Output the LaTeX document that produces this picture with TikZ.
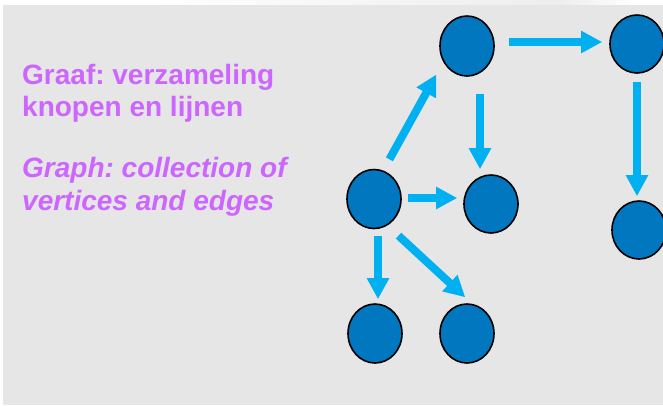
\documentclass[tikz,border=0pt]{standalone}
\usepackage{fontspec}
\setmainfont{Liberation Sans}
\usetikzlibrary{arrows.meta,shapes.geometric}
\frenchspacing
\definecolor{panel}{HTML}{E6E6E6}
\definecolor{vertexfill}{HTML}{0077BE}
\definecolor{edgeblue}{HTML}{00B0F0}
\definecolor{labelpurple}{HTML}{CC66FF}
\tikzset{
  vertex/.style={ellipse, draw=black, line width=1.6pt, fill=vertexfill,
    minimum width=54pt, minimum height=59pt, inner sep=0pt},
  edgearrow/.style={draw=edgeblue, line width=8pt,
    -{Triangle[length=21pt,width=21pt]}},
  caption/.style={text=labelpurple, font=\fontsize{28}{33}\selectfont\bfseries,
    anchor=base west, inner sep=0pt},
  captionit/.style={caption, font=\fontsize{28}{33}\selectfont\bfseries\itshape}
}
\begin{document}
\begin{tikzpicture}[x=1pt,y=-1pt]
  % canvas and grey panel
  \useasboundingbox (0,0) rectangle (663,405);
  \fill[white] (0,0) rectangle (663,405);
  \shade[left color=white, right color=panel!70!white] (150,0) rectangle (560,5);
  \shade[left color=panel!70!white, right color=white] (560,0) rectangle (635,5);
  \fill[panel] (3,5) rectangle (663,405);

  % text
  \node[caption]   (t1) at (22,84)  {Graaf: verzameling};
  \node[caption]   (t2) at (22,116) {knopen en lijnen};
  \node[captionit] (t3) at (22,177) {Graph: collection of};
  \node[captionit] (t4) at (22,210) {vertices and edges};

  % vertices
  \node[vertex, minimum height=60pt] (A) at (467,46)  {};
  \node[vertex, minimum height=58pt] (B) at (637,44)  {};
  \node[vertex, minimum height=58pt] (C) at (639,230) {};
  \node[vertex] (D) at (374,199) {};
  \node[vertex, minimum height=58pt] (E) at (491,204) {};
  \node[vertex] (F) at (375,333.5) {};
  \node[vertex] (G) at (467,333.5) {};

  % edges
  \draw[edgearrow, shorten <=12.7pt, shorten >=14.2pt] (D.72.5) -- (A.214);
  \draw[edgearrow, shorten <=17pt, shorten >=5pt]
    ([xshift=13pt]A.south) -- ([xshift=-11pt]E.north);
  \draw[edgearrow, shorten <=14pt, shorten >=7pt]
    ([yshift=4pt]A.east) -- ([yshift=2pt]B.west);
  \draw[edgearrow, shorten <=8pt, shorten >=4pt]
    (B.south) -- ([xshift=-2pt]C.north);
  \draw[edgearrow, shorten <=6pt, shorten >=6pt]
    ([yshift=1pt]D.east) -- ([yshift=6pt]E.west);
  \draw[edgearrow, shorten <=6.5pt, shorten >=4pt]
    ([xshift=4pt]D.south) -- ([xshift=3pt]F.north);
  \draw[edgearrow, shorten <=15pt, shorten >=9.5pt] (D.297) -- (G.80);
\end{tikzpicture}
\end{document}
